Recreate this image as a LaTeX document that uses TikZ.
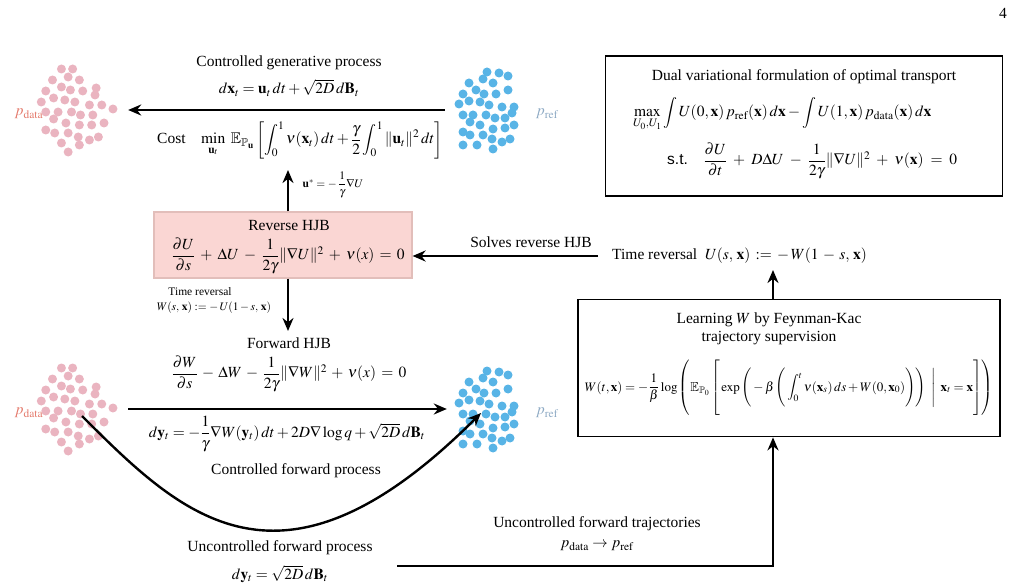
\documentclass[tikz,border=0pt]{standalone}
\usepackage{mathptmx}
\usepackage{amsmath,amssymb}
\usepackage{fontspec}
\setmainfont{Liberation Serif}
\setsansfont{Liberation Sans}
\usetikzlibrary{shapes.geometric, arrows.meta}

\definecolor{pinkDot}{RGB}{234,180,192}
\definecolor{blueDot}{RGB}{88,180,230}
\definecolor{dataText}{RGB}{228,122,108}
\definecolor{refText}{RGB}{142,170,196}
\definecolor{hjbFill}{RGB}{250,214,211}
\definecolor{hjbBorder}{RGB}{226,190,186}

\tikzstyle{plain} = [inner sep=1pt]
\tikzstyle{small} = [inner sep=1pt, font=\fontsize{11.5}{13}\selectfont]
\tikzstyle{cloud} = [inner sep=0pt, minimum width=72pt, minimum height=86pt]
\tikzstyle{hjbbox} = [
    rectangle,
    draw=hjbBorder,
    fill=hjbFill,
    line width=1.2pt,
    minimum width=258pt,
    minimum height=66pt
]
\tikzstyle{process} = [
    rectangle,
    draw=black,
    line width=1.8pt
]
\tikzstyle{arrow} = [line width=2.4pt,->,>={Stealth[length=13pt,width=11pt]}]

\newcommand{\pinkcloud}[1]{%
  \begin{scope}[shift={#1}]
    \foreach \dx/\dy in {-13/-41,-3/-41,-21/-30,-7/-33,3/-30,-27/-19,-13/-23,
        -5/-20,6/-19,18/-22,17/-15,-31/-8,-20/-12,-10/-10,-1/-8,12/-5,23/-5,
        33/-1,-27/2,-16/2,-4/2,4/5,15/5,-20/9,-9/13,3/15,14/15,25/13,-27/20,
        -19/23,-7/23,2/27,12/30,20/27,-13/33,3/35,-7/42}
      \fill [pinkDot] ({1.12*\dx},\dy) circle [radius=4.5];
  \end{scope}}
\newcommand{\bluecloud}[1]{%
  \begin{scope}[shift={#1}]
    \foreach \dx/\dy in {0/-38,12/-37,21/-34,-4/-31,6/-27,-18/-27,-24/-16,
        -11/-20,-3/-16,9/-16,21/-20,-28/-6,-18/-9,-7/-8,2/-5,15/-3,27/-3,25/3,
        -24/5,-14/5,-1/5,8/8,18/8,-17/12,-7/15,6/19,18/18,27/15,-24/22,-17/25,
        -4/25,5/29,15/32,23/29,-24/35,-10/35,6/39}
      \fill [blueDot] (\dx,\dy) circle [radius=4.5];
  \end{scope}}

\newcommand{\tallstrut}[2]{\rule[-#1pt]{0pt}{#2pt}}

\begin{document}
\begin{tikzpicture}[x=1pt, y=-1pt, font=\fontsize{15.5}{18}\selectfont]
\useasboundingbox (0,0) rectangle (1018,588);

\node (page) [plain] at (1003,13) {4};

\pinkcloud{(76,110)}
\bluecloud{(487,110)}
\pinkcloud{(76,409)}
\bluecloud{(487,409)}

\node (dataA) [cloud] at (75,110) {};
\node (refA) [cloud, minimum width=60pt] at (487,110) {};
\node (dataB) [cloud] at (75,409) {};
\node (refB) [cloud, minimum width=60pt] at (487,409) {};

\node (dataLblA) [plain, text=dataText] at (29,114) {$p_{\mathrm{data}}$};
\node (refLblA) [plain, text=refText] at (547,114) {$p_{\mathrm{ref}}$};
\node (dataLblB) [plain, text=dataText] at (29,413) {$p_{\mathrm{data}}$};
\node (refLblB) [plain, text=refText] at (547,413) {$p_{\mathrm{ref}}$};

\node (genTitle) [plain] at (289,63) {Controlled generative process};
\node (genEq) [plain] at (289,88)
{$d\mathbf{x}_t = \mathbf{u}_t\,dt + \sqrt{2D}\,d\mathbf{B}_t$};

\node (cost) [plain] at (300,140)
{Cost\quad $\displaystyle\min_{\mathbf{u}_t}\ \mathbb{E}_{\mathbb{P}_{\mathbf{u}}}
\left[\int_0^1 \nu(\mathbf{x}_t)\,dt + \frac{\gamma}{2}\int_0^1
\|\mathbf{u}_t\|^2\,dt\right]$};

\node (ustar) [small] at (333,185)
{$\mathbf{u}^* = -\,\dfrac{1}{\gamma}\nabla U$};

\node (hjbR) [hjbbox] at (283,245) {};
\node (hjbRTitle) [plain] at (289,226) {Reverse HJB};
\node (hjbREq) [plain] at (288,256)
{$\medmuskip=6mu\thickmuskip=6mu
\dfrac{\partial U}{\partial s} + \Delta U - \dfrac{1}{2\gamma}\|\nabla U\|^2
+ \nu(x) = 0$};

\node (revA) [small] at (200,292) {Time reversal};
\node (revB) [small] at (214,308)
{$W(s,\,\mathbf{x}) := -\,U(1-s,\,\mathbf{x})$};

\node (hjbFTitle) [plain] at (289,343) {Forward HJB};
\node (hjbFEq) [plain] at (289,374)
{$\medmuskip=5mu\thickmuskip=6mu
\dfrac{\partial W}{\partial s} - \Delta W - \dfrac{1}{2\gamma}\|\nabla W\|^2
+ \nu(x) = 0$};

\node (fwdEq) [plain] at (287,434)
{$d\mathbf{y}_t = -\dfrac{1}{\gamma}\nabla W(\mathbf{y}_t)\,dt + 2D\nabla\log q
+ \sqrt{2D}\,d\mathbf{B}_t$};
\node (fwdLbl) [plain] at (296,471) {Controlled forward process};

\node (uncLbl) [plain] at (280,548) {Uncontrolled forward process};
\node (uncEq) [plain] at (280,574) {$d\mathbf{y}_t = \sqrt{2D}\,d\mathbf{B}_t$};

\node (trajLbl) [plain] at (597,524) {Uncontrolled forward trajectories};
\node (trajEq) [plain] at (597,546) {$p_{\mathrm{data}} \to p_{\mathrm{ref}}$};

\node (dual) [process, minimum width=397pt, minimum height=140pt] at (804,126) {};
\node (dualTitle) [plain] at (804,77) {Dual variational formulation of optimal transport};
\node (dualMax) [plain, anchor=west] at (632,114)
{$\displaystyle\max_{U_0,U_1}\int U(0,\mathbf{x})\,p_{\mathrm{ref}}(\mathbf{x})\,d\mathbf{x}
- \int U(1,\mathbf{x})\,p_{\mathrm{data}}(\mathbf{x})\,d\mathbf{x}$};
\node (dualSt) [plain, anchor=west] at (666,161)
{\textsf{s.t.}\quad $\medmuskip=7mu\thickmuskip=8mu
\dfrac{\partial U}{\partial t} + D\Delta U
- \dfrac{1}{2\gamma}\|\nabla U\|^2 + \nu(\mathbf{x}) = 0$};

\node (solvesLbl) [plain] at (531,242) {Solves reverse HJB};
\node (timeRevR) [plain, anchor=west] at (611,256)
{Time reversal\ \ $\thickmuskip=6mu\medmuskip=5mu
U(s,\,\mathbf{x}) := -\,W(1 - s,\,\mathbf{x})$};

\node (fk) [process, minimum width=422pt, minimum height=137pt] at (789,368) {};
\node (fkTitle) [plain, align=center] at (769,329)
{Learning $W$ by Feynman-Kac\\ trajectory supervision};
\node (fkEq) [plain, font=\fontsize{13}{15}\selectfont] at (789,388)
{$W(t,\mathbf{x}) = -\dfrac{1}{\beta}\log\left(\tallstrut{26}{58}
\mathbb{E}_{\mathbb{P}_0}\left[\tallstrut{24}{53}
\exp\left(\tallstrut{18}{41}-\beta\left(\tallstrut{18}{41}
\displaystyle\int_0^t \nu(\mathbf{x}_s)\,ds
+ W(0,\mathbf{x}_0)\right)\right)\
\left.\tallstrut{18}{41}\right|\ \mathbf{x}_t = \mathbf{x}\right]\right)$};

\coordinate (costFoot) at (288,170);
\coordinate (fwdTop) at (288,331);
\coordinate (revFoot) at (773,270);
\coordinate (bottomStart) at (397,566);
\coordinate (curveStart) at (82,416);
\coordinate (curveEnd) at (481,413);

\draw [arrow] ([xshift=-12pt]refA.west) -- ([xshift=17pt]dataA.east);
\draw [arrow] (hjbR.north -| costFoot) -- (costFoot);
\draw [arrow] (hjbR.south -| fwdTop) -- (fwdTop);
\draw [arrow] ([xshift=17pt]dataB.east) -- ([xshift=-10pt]refB.west);
\draw [arrow] (curveStart) .. controls (182,516) and (281,613) .. (curveEnd);
\draw [arrow] ([xshift=-13pt]timeRevR.west) -- (timeRevR.west -| hjbR.east);
\draw [arrow] (fk.north -| revFoot) -- (revFoot);
\draw [arrow] (bottomStart) -| (fk.south -| revFoot);

\end{tikzpicture}
\end{document}
